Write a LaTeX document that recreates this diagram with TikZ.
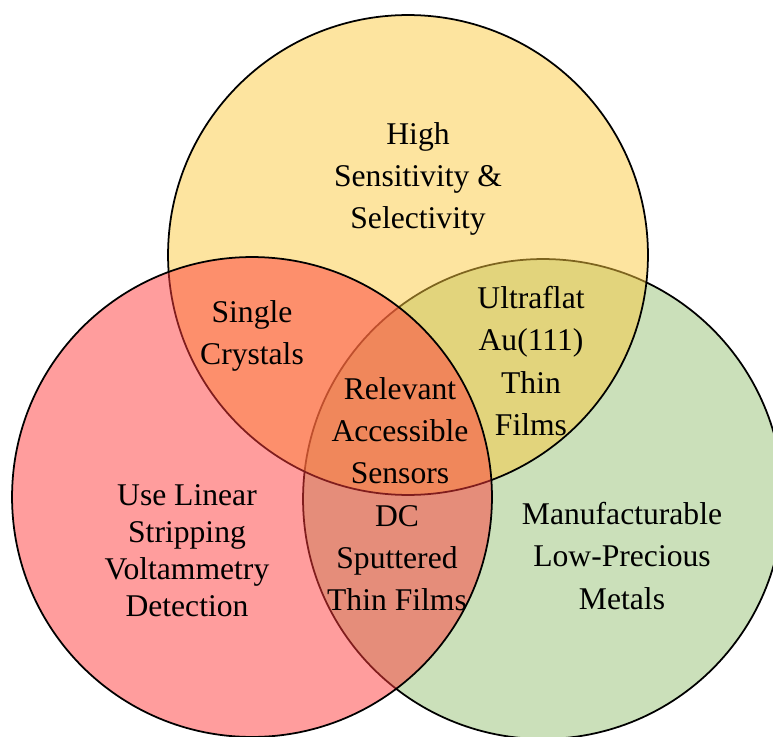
\documentclass[tikz,border=0pt]{standalone}
\usepackage{fontspec}
\setmainfont{Liberation Serif}
\usepackage{xcolor}
\usetikzlibrary{positioning}

\definecolor{sensyellow}{RGB}{251,201,63}
\definecolor{stripred}{RGB}{255,59,59}
\definecolor{manugreen}{RGB}{151,193,117}

\tikzset{
  venn/.style={draw=black,line width=1pt,circle,minimum size=9.6cm,inner sep=0pt,fill opacity=0.5,draw opacity=1},
  lbl/.style={align=center,font=\fontsize{18}{24}\selectfont}
}

\begin{document}
\begin{tikzpicture}[x=0.02cm,y=-0.02cm]
  \useasboundingbox (0,0) rectangle (773,736);
  \clip (0,0) rectangle (773,736);

  % Cerchi (l'ordine decide i colori sovrapposti)
  \node[venn,fill=manugreen] (manu) at (543,499) {};
  \node[venn,fill=sensyellow] (sens) at (408,255) {};
  \node[venn,fill=stripred] (strip) at (252,497) {};

  % Regioni singole
  \node[lbl] (hss) at (418,179) {High\\Sensitivity \&\\Selectivity};
  \node[lbl,font=\fontsize{18}{21}\selectfont] (lsv) at (187,551) {Use Linear\\Stripping\\Voltammetry\\Detection};
  \node[lbl] (mlp) at (622,556) {Manufacturable\\Low-Precious\\Metals};

  % Intersezioni
  \node[lbl] (sc) at (252,336) {Single\\Crystals};
  \node[lbl] (uf) at (531,361) {Ultraflat\\Au(111)\\Thin\\Films};
  \node[lbl] (dc) at (397,558) {DC\\Sputtered\\Thin Films};
  \node[lbl] (ras) at (400,431) {Relevant\\Accessible\\Sensors};
\end{tikzpicture}
\end{document}
